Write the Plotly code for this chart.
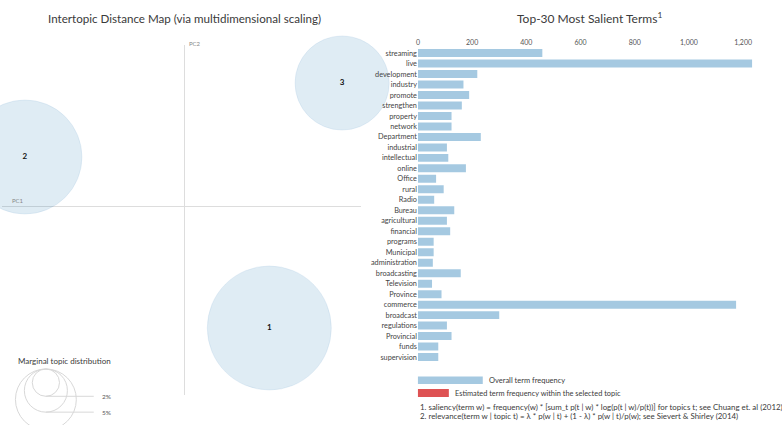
import math
import plotly.graph_objects as go

W, H = 782, 425

# Topic positions on the first two principal coordinates and marginal shares (%)
topic_ids = ["1", "2", "3"]
topic_pc1 = [0.2125, -0.400, 0.395]
topic_pc2 = [-0.305, 0.1225, 0.3075]
topic_share = [41.3, 34.9, 23.8]

# Top-30 most salient terms and their overall corpus frequency
terms = [
    "streaming", "live", "development", "industry", "promote", "strengthen",
    "property", "network", "Department", "industrial", "intellectual", "online",
    "Office", "rural", "Radio", "Bureau", "agricultural", "financial",
    "programs", "Municipal", "administration", "broadcasting", "Television",
    "Province", "commerce", "broadcast", "regulations", "Provincial", "funds",
    "supervision",
]
term_freq = [
    459, 1233, 219, 168, 189, 162,
    124, 124, 232, 107, 112, 177,
    67, 95, 60, 134, 107, 119,
    58, 58, 55, 158, 52,
    87, 1174, 300, 107, 124, 75,
    75,
]

freq_ticks = [0, 200, 400, 600, 800, 1000, 1200]
guide_pcts = [2, 5, 10]

FONT = "Lato"
TXT = "#3a3a3a"

# pixel radius per sqrt(percent) shared by topic circles and the size guide
R_PER_SQRT = 9.65


def px(x):
    return x / W


def py(y):
    return 1 - y / H


fig = go.Figure()

# Intertopic distance map
fig.add_trace(go.Scatter(
    x=topic_pc1, y=topic_pc2, text=topic_ids,
    mode="markers+text",
    marker=dict(
        size=[2 * R_PER_SQRT * math.sqrt(s) for s in topic_share],
        sizemode="diameter",
        color="rgba(31,119,180,0.2)",
        line=dict(color="rgba(31,119,180,0.12)", width=1),
    ),
    texttemplate="<b>%{text}</b>",
    textposition="middle center",
    textfont=dict(family=FONT, size=8, color="#111"),
    cliponaxis=False, hoverinfo="skip", showlegend=False,
    xaxis="x", yaxis="y",
))

# Salient term bars
fig.add_trace(go.Bar(
    x=term_freq, y=terms, orientation="h",
    marker=dict(color="rgba(31,119,180,0.4)", line=dict(width=0)),
    showlegend=False, xaxis="x2", yaxis="y2",
))

fig.update_layout(
    width=W, height=H,
    margin=dict(l=0, r=0, t=0, b=0),
    paper_bgcolor="white", plot_bgcolor="white",
    font=dict(family=FONT, color=TXT),
    bargap=0.24,
    showlegend=False,
    xaxis=dict(
        domain=[0, px(360)], range=[-183 / 400, 177 / 400],
        showgrid=False, showticklabels=False, ticks="",
        zeroline=True, zerolinecolor="#dddddd", zerolinewidth=1,
    ),
    yaxis=dict(
        domain=[py(395), py(45)], range=[-189 / 400, 161 / 400],
        showgrid=False, showticklabels=False, ticks="",
        zeroline=True, zerolinecolor="#dddddd", zerolinewidth=1,
    ),
    xaxis2=dict(
        domain=[px(417), 1.0], range=[0, 365 / 0.2717],
        side="top", anchor="y2", tickvals=freq_ticks, tickformat=",d",
        showgrid=False, zeroline=False, showline=False, ticks="",
        tickfont=dict(family=FONT, size=7, color="#555"),
    ),
    yaxis2=dict(
        domain=[py(362.3), py(47.8)], anchor="x2",
        autorange="reversed", type="category",
        showgrid=False, zeroline=False, showline=False, ticks="",
        tickfont=dict(family=FONT, size=7.3, color="#444"),
    ),
)

ann = []
ann.append(dict(text="Intertopic Distance Map (via multidimensional scaling)",
                x=px(183), y=py(18), xanchor="center", yanchor="middle",
                font=dict(size=11.6, color=TXT)))
ann.append(dict(text="Top-30 Most Salient Terms<sup>1</sup>",
                x=px(589), y=py(18), xanchor="center", yanchor="middle",
                font=dict(size=12, color=TXT)))
ann.append(dict(text="PC1", x=px(8), y=py(200), xanchor="left", yanchor="middle",
                font=dict(size=6, color="#888")))
ann.append(dict(text="PC2", x=px(185), y=py(44), xanchor="left", yanchor="middle",
                font=dict(size=6, color="#888")))
ann.append(dict(text="Marginal topic distribution", x=px(14), y=py(361),
                xanchor="left", yanchor="middle", font=dict(size=8, color=TXT)))

shapes = []
# size guide: circles share a common top edge, a leader line at each bottom
cx, top = 44, 369
for p in guide_pcts:
    r = R_PER_SQRT * math.sqrt(p)
    shapes.append(dict(type="circle", xref="paper", yref="paper",
                       x0=px(cx - r), x1=px(cx + r), y0=py(top + 2 * r), y1=py(top),
                       line=dict(color="#d8d8d8", width=1)))
    shapes.append(dict(type="line", xref="paper", yref="paper",
                       x0=px(cx), x1=px(92), y0=py(top + 2 * r), y1=py(top + 2 * r),
                       line=dict(color="#d8d8d8", width=1)))
    ann.append(dict(text=f"{p}%", x=px(98), y=py(top + 2 * r), xanchor="left",
                    yanchor="middle", font=dict(size=6.5, color="#555")))

# bar legend
shapes.append(dict(type="rect", xref="paper", yref="paper",
                   x0=px(417), x1=px(482), y0=py(384), y1=py(376.5),
                   fillcolor="rgba(31,119,180,0.4)", line=dict(width=0)))
shapes.append(dict(type="rect", xref="paper", yref="paper",
                   x0=px(417), x1=px(448), y0=py(397), y1=py(389),
                   fillcolor="rgba(214,39,40,0.8)", line=dict(width=0)))
ann.append(dict(text="Overall term frequency", x=px(486), y=py(380.5),
                xanchor="left", yanchor="middle", font=dict(size=7.5, color=TXT)))
ann.append(dict(text="Estimated term frequency within the selected topic",
                x=px(452), y=py(393), xanchor="left", yanchor="middle",
                font=dict(size=7.4, color=TXT)))
ann.append(dict(text="1. saliency(term w) = frequency(w) * [sum_t p(t | w) * log(p(t | w)/p(t))] "
                     "for topics t; see Chuang et. al (2012)",
                x=px(417), y=py(407), xanchor="left", yanchor="middle",
                font=dict(size=7.9, color=TXT)))
ann.append(dict(text="2. relevance(term w | topic t) = \u03bb * p(w | t) + (1 - \u03bb) * p(w | t)/p(w); "
                     "see Sievert & Shirley (2014)",
                x=px(417), y=py(416), xanchor="left", yanchor="middle",
                font=dict(size=7.9, color=TXT)))

for a in ann:
    a.update(xref="paper", yref="paper", showarrow=False)

fig.update_layout(annotations=ann, shapes=shapes)

fig.write_html("out.html")
